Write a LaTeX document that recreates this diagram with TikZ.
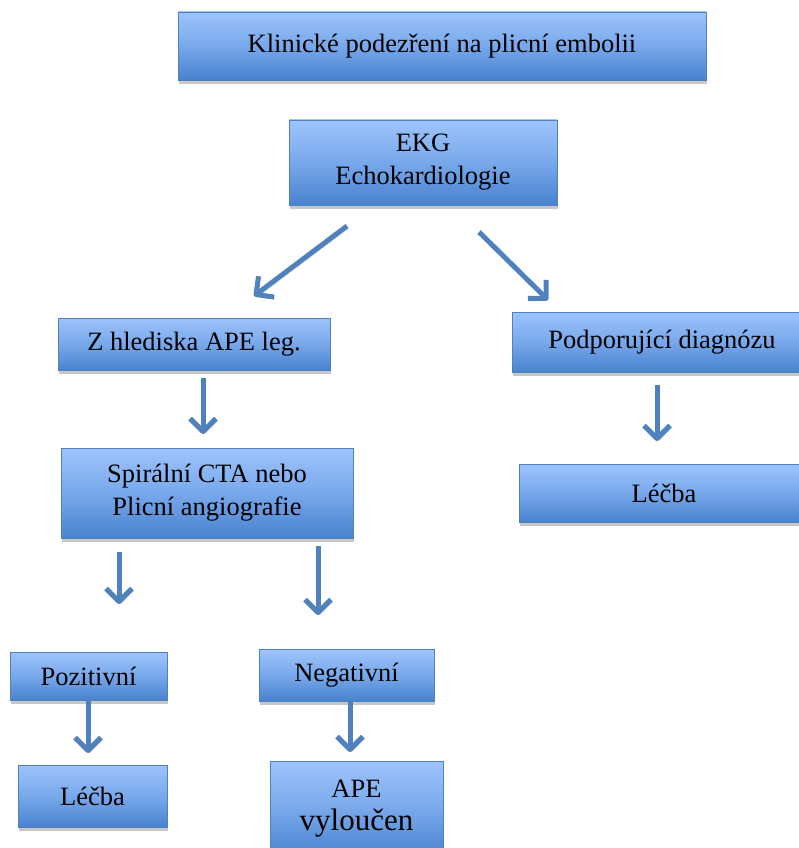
\documentclass[tikz,border=0pt]{standalone}
\usepackage{fontspec}
\setmainfont{Liberation Serif}
\usetikzlibrary{arrows.meta,shadows}
\definecolor{boxtop}{RGB}{158,196,252}
\definecolor{boxmid}{RGB}{120,168,235}
\definecolor{boxbot}{RGB}{72,130,206}
\definecolor{boxline}{RGB}{79,129,189}
\definecolor{arrblue}{RGB}{79,129,189}
\tikzset{
  box/.style={draw=boxline, line width=0.8pt, top color=boxtop, bottom color=boxbot, middle color=boxmid,
    drop shadow={shadow xshift=1pt, shadow yshift=-4pt, fill=black!22, opacity=1},
    inner sep=0pt, align=center, font=\fontsize{26.5}{33}\selectfont, text=black},
  arr/.style={draw=arrblue, line width=5pt, -{Straight Barb[length=13pt,width=26pt,line join=round]},
    preaction={draw=black!18, transform canvas={shift={(1.5pt,-2.5pt)}}}}
}
\begin{document}
\begin{tikzpicture}[x=1pt,y=-1pt]
\useasboundingbox (0,0) rectangle (798,848);
\node[box, minimum width=528pt, minimum height=68pt] (top) at (442,46) {Klinické podezření na plicní embolii};
\node[box, minimum width=268pt, minimum height=85pt] (ekg) at (423,162.5) {EKG\\Echokardiologie};
\node[box, minimum width=272pt, minimum height=52pt] (z) at (194,344) {Z hlediska APE leg.};
\node[box, minimum width=300pt, minimum height=60pt] (pd) at (662,342) {Podporující diagnózu};
\node[box, minimum width=292pt, minimum height=90pt] (sp) at (207,493) {Spirální CTA nebo\\Plicní angiografie};
\node[box, minimum width=290pt, minimum height=58pt] (l1) at (664,493) {Léčba};
\node[box, minimum width=157pt, minimum height=48pt] (poz) at (88.5,676) {Pozitivní};
\node[box, minimum width=175pt, minimum height=52pt] (neg) at (346.5,675) {Negativní};
\node[box, minimum width=149pt, minimum height=62pt] (l2) at (92.5,796) {Léčba};
\node[box, minimum width=173pt, minimum height=96pt, font=\fontsize{26.5}{33}\selectfont] (ape) at (356.5,809) {APE\\{\fontsize{31}{31}\selectfont vyloučen}};
% connector ends
\coordinate (a1s) at (347,226);
\coordinate (a1e) at (254,296);
\coordinate (a2s) at (479,232);
\coordinate (a2e) at (548,300);
\coordinate (a3s) at (203,378);
\coordinate (a3e) at (203,434);
\coordinate (a4s) at (657,385);
\coordinate (a4e) at (657,441);
\coordinate (a5s) at (119,552);
\coordinate (a5e) at (119,604);
\coordinate (a6s) at (318,546);
\coordinate (a6e) at (318,615);
\coordinate (a7s) at (88,701);
\coordinate (a7e) at (88,753);
\coordinate (a8s) at (350,702);
\coordinate (a8e) at (350,752);
\draw[arr] (a1s) -- (a1e);
\draw[arr] (a2s) -- (a2e);
\draw[arr] (a3s) -- (a3e);
\draw[arr] (a4s) -- (a4e);
\draw[arr] (a5s) -- (a5e);
\draw[arr] (a6s) -- (a6e);
\draw[arr] (a7s) -- (a7e);
\draw[arr] (a8s) -- (a8e);
\end{tikzpicture}
\end{document}
